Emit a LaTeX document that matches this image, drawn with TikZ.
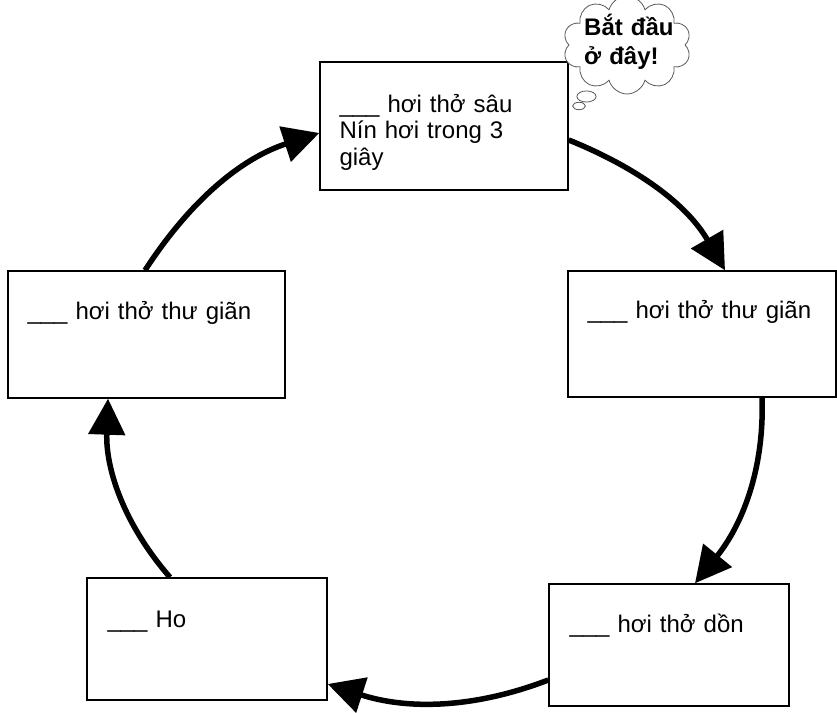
\documentclass[tikz,border=0pt]{standalone}
\usepackage{fontspec}
\setmainfont{Liberation Sans}
\usetikzlibrary{arrows.meta,shapes.callouts,shapes.symbols,calc}
\begin{document}
\begin{tikzpicture}[x=1pt,y=1pt,
  box/.style={draw=black, line width=1.4pt, inner sep=0pt},
  txt/.style={anchor=base west, inner sep=0pt, font=\fontsize{24}{26.5}\selectfont, text width=230pt, align=left},
  flow/.style={line width=5.5pt, -{Triangle[length=36pt,width=36pt]}, looseness=0.95}]
\useasboundingbox (0,0) rectangle (837,712);
% boxes
\node[box, minimum width=248pt, minimum height=128pt] (nT) at (444,586) {};
\node[box, minimum width=268pt, minimum height=126pt] (nR) at (702,378) {};
\node[box, minimum width=277pt, minimum height=127pt] (nL) at (146.5,377.5) {};
\node[box, minimum width=240pt, minimum height=122pt] (nBL) at (207,73) {};
\node[box, minimum width=240pt, minimum height=122pt] (nBR) at (669,67) {};
% texts
\node[txt] (tT) at ([xshift=20pt,yshift=-51pt]nT.north west) {\_\_\_ hơi thở sâu\\Nín hơi trong 3\\giây};
\node[txt] (tR) at ([xshift=20pt,yshift=-48pt]nR.north west) {\_\_\_ hơi thở thư giãn};
\node[txt] (tL) at ([xshift=20pt,yshift=-49pt]nL.north west) {\_\_\_ hơi thở thư giãn};
\node[txt] (tBL) at ([xshift=21pt,yshift=-50pt]nBL.north west) {\_\_\_ Ho};
\node[txt] (tBR) at ([xshift=21pt,yshift=-49pt]nBR.north west) {\_\_\_ hơi thở dồn};
% arrows
\draw[flow] ([yshift=-14pt]nT.east) to[out=-22,in=120] ([xshift=23pt]nR.north);
\draw[flow] ([xshift=60pt]nR.south) to[out=-88,in=51] ([xshift=26pt]nBR.north);
\draw[flow] ([yshift=-35pt]nBR.west) to[out=-159,in=-18] ([yshift=-45pt]nBL.east);
\draw[flow] ([xshift=-37pt]nBL.north) to[out=131,in=-92] ([xshift=-38.5pt]nL.south);
\draw[flow] ([xshift=-1.5pt]nL.north) to[out=57,in=198] ([yshift=-7pt]nT.west);
% cloud
\node[cloud callout, draw=gray!70!black, fill=white, line width=0.8pt,
  minimum width=128pt, minimum height=98pt, cloud puffs=10, cloud ignores aspect,
  callout absolute pointer={(579,606)}, inner sep=0pt] (cloud) at (627,667) {};
\node[anchor=base west, inner sep=0pt, font=\bfseries\fontsize{24}{29}\selectfont,
  text width=100pt, align=left] (ct) at (584,676) {Bắt đầu\\ở đây!};
\end{tikzpicture}
\end{document}
